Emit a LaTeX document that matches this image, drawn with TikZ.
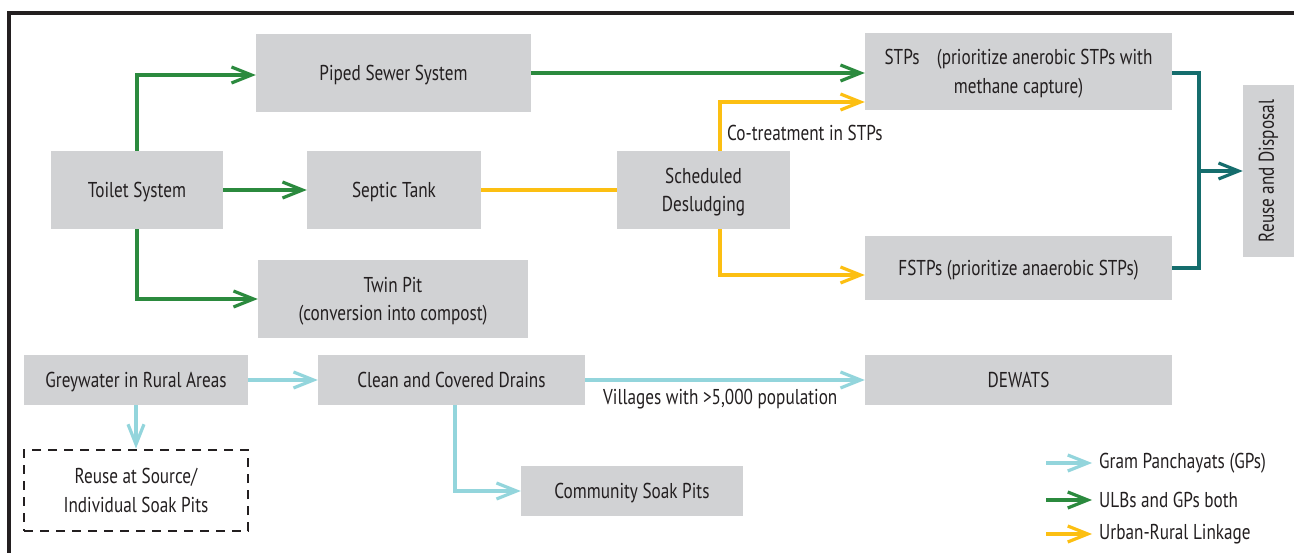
\documentclass[tikz,border=0pt]{standalone}
\usepackage{fontspec}
\setmainfont{PT Sans}[FakeStretch=0.8]
\usetikzlibrary{arrows.meta,calc}
\definecolor{boxgray}{HTML}{D1D2D4}
\definecolor{ink}{HTML}{231F20}
\definecolor{grn}{HTML}{2B8A3E}
\definecolor{yel}{HTML}{FCBF12}
\definecolor{lblue}{HTML}{93D5DC}
\definecolor{tealc}{HTML}{156D6D}
\tikzset{
  txt/.style={text=ink, font=\fontsize{21.5}{28.5}\selectfont},
  box/.style={txt, fill=boxgray, align=center, inner sep=0pt, text depth=0pt},
  tip/.style={-{Straight Barb[length=20pt,width=16pt]}},
  gline/.style={draw=grn, line width=3.2pt, tip},
  yline/.style={draw=yel, line width=3.2pt},
  bline/.style={draw=lblue, line width=3.2pt, tip},
  tline/.style={draw=tealc, line width=3.2pt},
}
\begin{document}
\begin{tikzpicture}[x=1pt,y=-1pt]
\useasboundingbox (0,0) rectangle (1294,553);
% outer frame (open at right and bottom)
\draw[ink, line width=3.2pt] (9,553) -- (9,13) -- (1294,13);

% boxes
\node[box, minimum width=275pt, minimum height=78pt] (piped) at (393.5,73) {Piped Sewer System};
\node[box, minimum width=172pt, minimum height=78pt] (toilet) at (137,190) {Toilet System};
\node[box, minimum width=174pt, minimum height=78pt] (septic) at (394,190) {Septic Tank};
\node[box, minimum width=270pt, minimum height=78pt] (twin) at (393,299) {Twin Pit\\(conversion into compost)};
\node[box, minimum width=173pt, minimum height=78pt] (desl) at (703.5,190) {Scheduled\\Desludging};
\node[box, minimum width=307pt, minimum height=77pt] (stp) at (1018.5,71.5) {STPs\hspace{0.6em} (prioritize anerobic STPs with\\methane capture)};
\node[box, minimum width=307pt, minimum height=64pt] (fstp) at (1018.5,268) {FSTPs (prioritize anaerobic STPs)};
\node[box, minimum width=51pt, minimum height=172pt] (reuse) at (1268.5,171) {\rotatebox{90}{Reuse and Disposal}};
\node[box, minimum width=224pt, minimum height=50pt] (grey) at (136,380) {Greywater in Rural Areas};
\node[box, minimum width=267pt, minimum height=50pt] (drains) at (451.5,380) {Clean and Covered Drains};
\node[box, minimum width=307pt, minimum height=50pt] (dewats) at (1018.5,380) {DEWATS};
\node[box, fill=none, draw=ink, line width=2.8pt, dash pattern=on 9pt off 7pt,
      minimum width=224pt, minimum height=81pt] (soak) at (136,490.5) {Reuse at Source/\\Individual Soak Pits};
\node[box, minimum width=222pt, minimum height=50pt] (comm) at (632,491) {Community Soak Pits};

% toilet outlets
\draw[gline] (toilet.north) |- ($(piped.west)+(0,2)$);
\draw[gline] (toilet.east) -- (septic.west);
\draw[gline] (toilet.south) |- (twin.west);
\draw[gline] ($(piped.east)+(0,0)$) -- ($(stp.west)+(0,1.5)$);

% faecal sludge path
\draw[yline] (septic.east) -- (desl.west);
\draw[yline, tip] ($(desl.north)+(16.5,0)$) |- ($(stp.west)+(0,30.5)$);
\draw[yline, tip] ($(desl.south)+(16.5,0)$) |- ($(fstp.west)+(0,7)$);
\node[txt, anchor=west, inner sep=0pt] (cotreat) at (727,133) {Co-treatment in STPs};

% treatment outputs
\coordinate (join) at (1199,171);
\draw[tline] ($(stp.east)+(0,1.5)$) -| (join) |- (fstp.east);
\draw[tline, tip] (join) -- (reuse.west);

% greywater
\draw[bline] (grey.east) -- (drains.west);
\draw[bline] (grey.south) -- (soak.north);
\draw[bline] ($(drains.south)+(3.5,0)$) |- (comm.west);
\draw[bline] (drains.east) -- (dewats.west);
\node[txt, anchor=west, inner sep=0pt] (vill) at (603,399) {Villages with >5,000 population};

% legend
\coordinate (la1) at (1046,463); \coordinate (lb1) at (1092,463);
\coordinate (la2) at (1046,500); \coordinate (lb2) at (1092,500);
\coordinate (la3) at (1046,534); \coordinate (lb3) at (1092,534);
\draw[bline] (la1) -- (lb1);
\draw[gline] (la2) -- (lb2);
\draw[yline, tip] (la3) -- (lb3);
\node[txt, anchor=west, inner sep=0pt] (leg1) at (1099,463) {Gram Panchayats (GPs)};
\node[txt, anchor=west, inner sep=0pt] (leg2) at (1099,500) {ULBs and GPs both};
\node[txt, anchor=west, inner sep=0pt] (leg3) at (1099,534) {Urban-Rural Linkage};
\end{tikzpicture}
\end{document}
